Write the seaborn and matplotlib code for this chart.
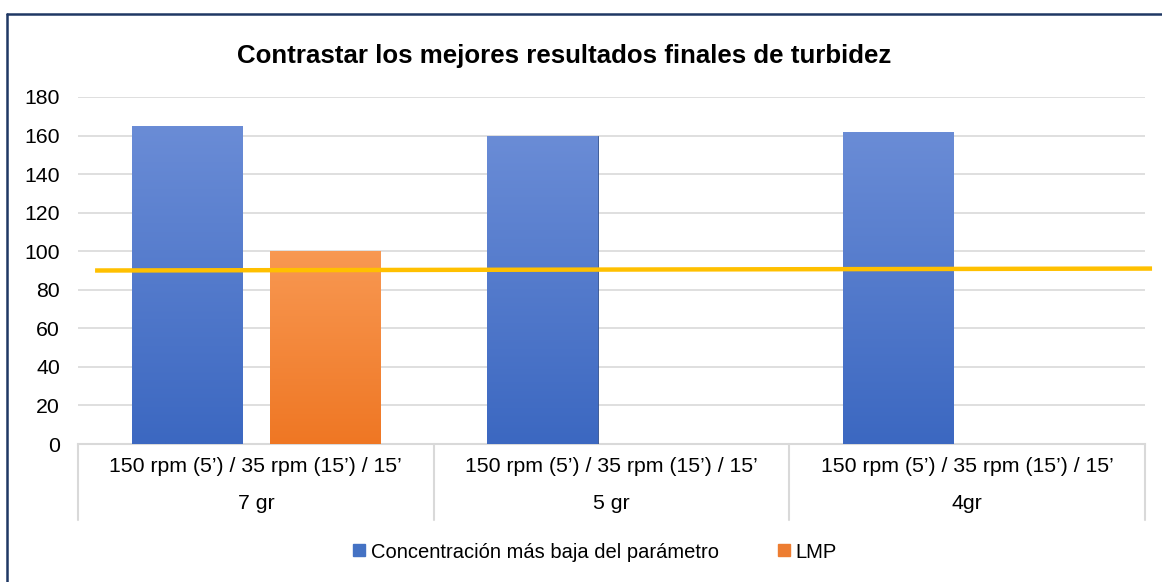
import numpy as np
import pandas as pd
import seaborn as sns
import matplotlib.pyplot as plt
from matplotlib.lines import Line2D
from matplotlib.colors import to_rgb
import matplotlib.transforms as mtransforms

# data
categories = ["7 gr", "5 gr", "4gr"]
setting_label = "150 rpm (5\u2019) / 35 rpm (15\u2019) / 15\u2019"
series = ["Concentración más baja del parámetro", "LMP"]
conc_values = [165, 160, 162]
lmp_values = [100, None, None]
limit_line = [90, 91]   # hand-drawn yellow reference line (start, end)
yticks = [0, 20, 40, 60, 80, 100, 120, 140, 160, 180]

colors = {"Concentración más baja del parámetro": "#4472C4", "LMP": "#ED7D31"}
grad_ends = {"#4472C4": ("#6A8CD6", "#3C68C1"), "#ED7D31": ("#F89852", "#EF7724")}

rows = []
for cat, c, l in zip(categories, conc_values, lmp_values):
    rows.append((cat, series[0], c))
    if l is not None:
        rows.append((cat, series[1], l))
df = pd.DataFrame(rows, columns=["categoria", "serie", "valor"])

sns.set_style("white")
plt.rcParams['font.family'] = ['Liberation Sans', 'DejaVu Sans']
plt.rcParams['text.color'] = 'black'

fig = plt.figure(figsize=(11.62, 5.82), dpi=100)
ax = fig.add_axes([78 / 1162, 1 - 444 / 582, (1145 - 78) / 1162, 347 / 582])

sns.barplot(data=df, x="categoria", y="valor", hue="serie", order=categories,
            hue_order=series, palette=colors, width=0.776, gap=0.2,
            legend=False, ax=ax, zorder=3)

# fake the excel bevel with a vertical gradient in each bar
for bar in list(ax.patches):
    h = bar.get_height()
    if not h or np.isnan(h):
        continue
    fc = bar.get_facecolor()
    key = "#4472C4" if fc[2] > fc[0] else "#ED7D31"
    top, bot = grad_ends[key]
    t = np.linspace(0, 1, 64)[:, None]
    grad = (1 - t) * np.array(to_rgb(top)) + t * np.array(to_rgb(bot))
    grad = grad[:, None, :]
    x0, w = bar.get_x(), bar.get_width()
    im = ax.imshow(grad, extent=[x0, x0 + w, 0, h], aspect='auto',
                   origin='upper', zorder=3.5, interpolation='bilinear')
    im.set_clip_path(bar)
    bar.set_edgecolor("#2F4F8F" if key == "#4472C4" else "#B85A1A")
    bar.set_linewidth(0.6)

ax.set_xlim(-0.5, len(categories) - 0.5)
ax.set_ylim(0, 180)
ax.set_yticks(yticks)
ax.yaxis.grid(True, color="#D9D9D9", linewidth=1.2, zorder=0)
ax.set_axisbelow(True)
for s in ["left", "right", "top"]:
    ax.spines[s].set_visible(False)
ax.spines["bottom"].set_color("#D9D9D9")
ax.spines["bottom"].set_linewidth(1.5)
ax.tick_params(axis="y", length=0, pad=13, labelsize=15.3, labelcolor="black")
ax.tick_params(axis="x", length=0, pad=9.5, labelsize=15.3, labelcolor="black")
ax.set_xticks(range(len(categories)))
ax.set_xticklabels([setting_label + "\n" + c for c in categories], linespacing=2.2)
ax.set_xlabel("")
ax.set_ylabel("")

# category separators below the axis
sep = mtransforms.blended_transform_factory(ax.transData, ax.transAxes)
for xb in np.arange(-0.5, len(categories), 1.0):
    ax.add_line(Line2D([xb, xb], [0, -0.219], transform=sep, color="#D9D9D9",
                       linewidth=1.5, clip_on=False))

# yellow line drawn over the chart
lt = mtransforms.blended_transform_factory(ax.transAxes, ax.transData)
ax.plot([0.016, 1.0066], limit_line, transform=lt, color="#FFC000",
        linewidth=3.2, solid_capstyle="butt", clip_on=False, zorder=5)

fig.suptitle("Contrastar los mejores resultados finales de turbidez", x=564 / 1162,
             y=1 - 56 / 582, va="center", fontsize=18.6, fontweight="bold", color="black")

handles = [Line2D([], [], marker="s", linestyle="", markersize=8,
                  markerfacecolor=colors[s], markeredgecolor=colors[s]) for s in series]
fig.legend(handles, series, loc="center", bbox_to_anchor=(594 / 1162, 1 - 552 / 582),
           ncol=2, frameon=False, fontsize=14.5, handlelength=0.8, handletextpad=0.2,
           columnspacing=2.8, labelcolor="black")

# outer chart border (only top and left visible in the crop)
fig.add_artist(Line2D([7 / 1162, 1], [1 - 14 / 582, 1 - 14 / 582], transform=fig.transFigure,
                      color="#1F3864", linewidth=1.8))
fig.add_artist(Line2D([7 / 1162, 7 / 1162], [0, 1 - 14 / 582], transform=fig.transFigure,
                      color="#1F3864", linewidth=1.8))

fig.savefig("out.png", dpi=100, facecolor="white")
